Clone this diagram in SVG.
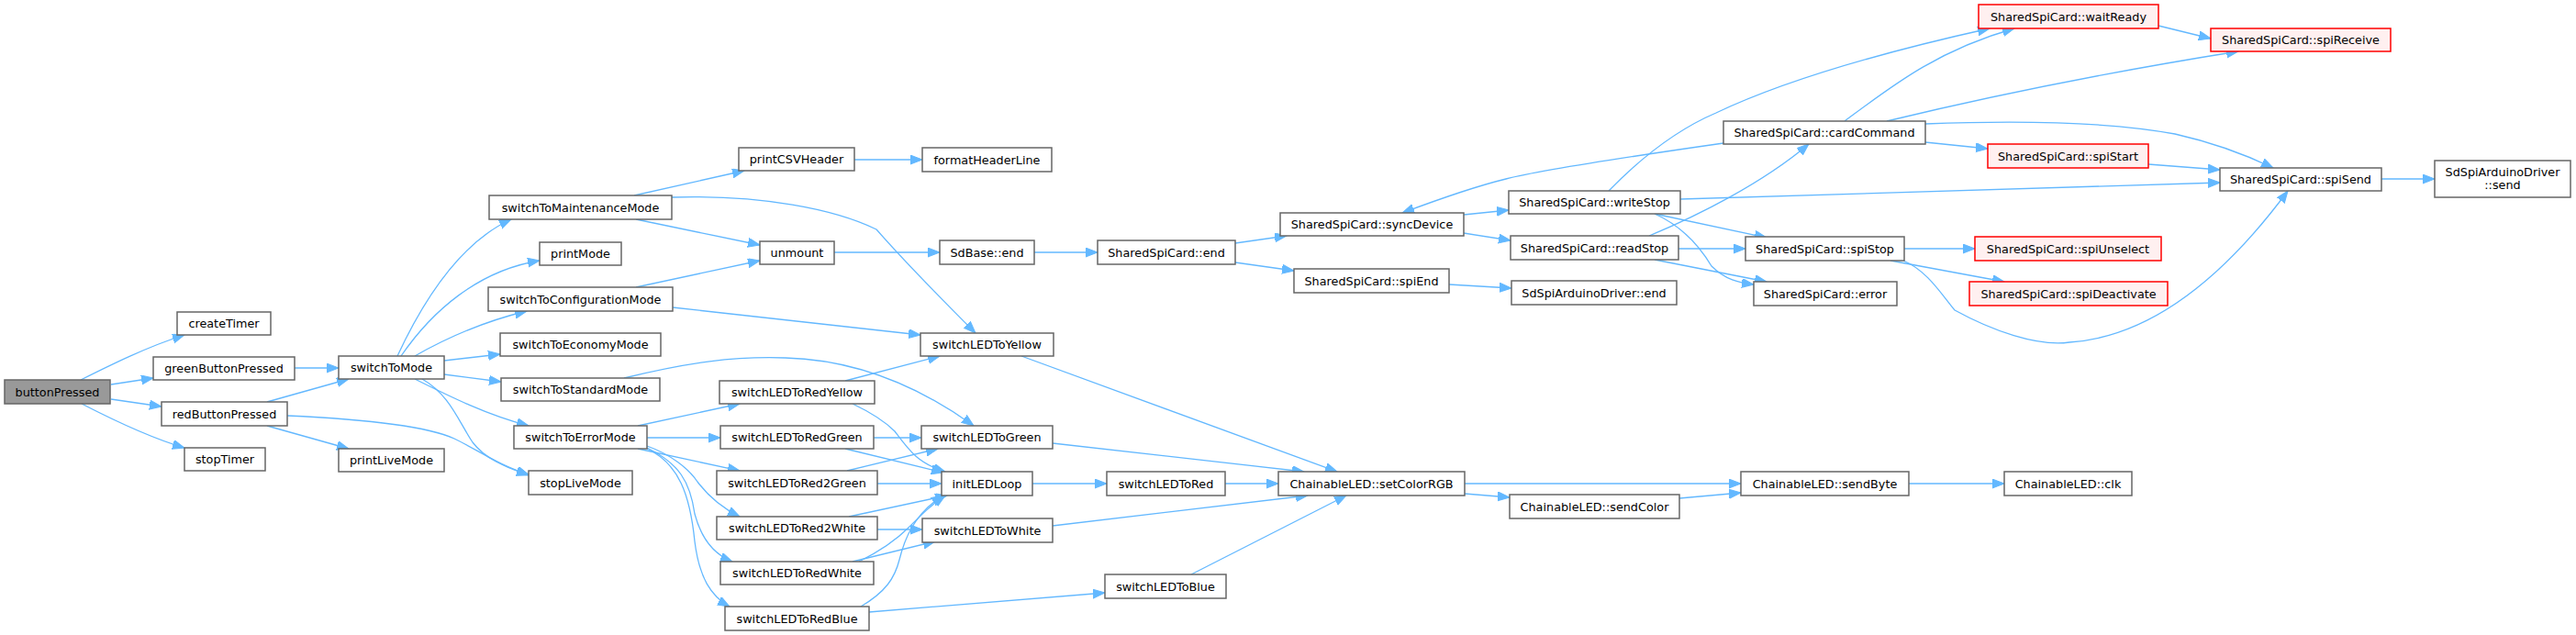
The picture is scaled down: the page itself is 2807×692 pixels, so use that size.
<svg xmlns="http://www.w3.org/2000/svg" width="2807" height="692" viewBox="0 0 2807 692">
<style>
.n rect{fill:#ffffff;stroke:#666666;stroke-width:1.5}
.r rect{fill:#fff0f0;stroke:#ff0000;stroke-width:1.5}
.root rect{fill:#999999;stroke:#666666;stroke-width:1.5}
text{font-family:"DejaVu Sans","Liberation Sans",sans-serif;font-size:12.8px;fill:#000000;text-anchor:middle}
#edges path{fill:none;stroke:#63b8ff;stroke-width:1.3;marker-end:url(#ah)}
</style>
<defs>
<marker id="ah" markerUnits="userSpaceOnUse" markerWidth="14" markerHeight="11" refX="13" refY="5" orient="auto">
<path d="M0,0 L13,5 L0,10 z" fill="#63b8ff" stroke="#63b8ff" stroke-width="1"/>
</marker>
</defs>
<rect width="2807" height="692" fill="#ffffff"/>
<g id="edges">
<path d="M88,414 C120,398 160,378 201,365"/>
<path d="M121,419 L167,412"/>
<path d="M121,435 L176,443"/>
<path d="M89,440 C120,456 160,476 201,488"/>
<path d="M321,401 L369,401"/>
<path d="M291,438 L380,413"/>
<path d="M291,464 L380,489"/>
<path d="M313,453 C380,456 460,462 495,478 C520,490 545,508 576,517"/>
<path d="M433,388 C460,330 500,265 557,239"/>
<path d="M437,388 C470,340 520,295 588,284"/>
<path d="M452,388 C480,372 520,352 574,339"/>
<path d="M484,393 L545,386"/>
<path d="M484,408 L546,416"/>
<path d="M452,413 C490,432 530,452 576,464"/>
<path d="M460,413 C490,430 500,460 515,482 C530,502 555,510 576,518"/>
<path d="M691,213 L811,186"/>
<path d="M693,239 L828,267"/>
<path d="M732,215 C830,212 910,228 955,250 C990,290 1030,330 1063,363"/>
<path d="M931,174 L1005,174"/>
<path d="M693,313 L828,284"/>
<path d="M733,335 L1003,365"/>
<path d="M680,412 C750,395 800,388 856,390 C930,392 1000,420 1061,464"/>
<path d="M909,275 L1024,275"/>
<path d="M1127,275 L1196,275"/>
<path d="M1346,265 L1402,257"/>
<path d="M1346,286 L1410,295"/>
<path d="M1579,310 L1647,314"/>
<path d="M1595,234 L1644,229"/>
<path d="M1595,254 L1646,262"/>
<path d="M1878,156 C1780,170 1680,185 1641,195 C1600,205 1560,220 1528,232"/>
<path d="M1753,208 C1790,170 1830,140 1870,123 C1950,85 2060,55 2168,31"/>
<path d="M2010,132 C2060,95 2110,55 2195,31"/>
<path d="M2056,132 C2180,102 2320,75 2439,56"/>
<path d="M2098,135 C2200,131 2300,133 2370,146 C2410,155 2450,170 2477,183"/>
<path d="M2098,155 L2166,162"/>
<path d="M2341,179 L2419,185"/>
<path d="M1831,217 C2000,212 2200,204 2419,199"/>
<path d="M1803,233 L1925,259"/>
<path d="M1803,233 C1830,245 1850,265 1865,290 C1880,305 1895,308 1911,310"/>
<path d="M1797,257 C1850,235 1920,200 1971,157"/>
<path d="M1829,271 L1902,271"/>
<path d="M1803,283 L1925,307"/>
<path d="M2075,271 L2152,271"/>
<path d="M2060,284 L2184,307"/>
<path d="M2074,284 C2100,295 2115,320 2130,338 C2170,360 2220,378 2255,373 C2330,368 2410,320 2493,208"/>
<path d="M2352,28 L2409,42"/>
<path d="M2595,195 L2653,195"/>
<path d="M695,464 L806,440"/>
<path d="M705,477 L785,477"/>
<path d="M695,489 L806,513"/>
<path d="M705,486 C730,495 750,510 760,525 C775,545 790,555 806,563"/>
<path d="M705,488 C740,505 752,525 757,560 C765,590 780,605 798,612"/>
<path d="M705,489 C740,505 752,540 757,590 C762,630 775,650 795,661"/>
<path d="M921,415 L1024,388"/>
<path d="M929,440 C950,450 965,460 975,470 C990,490 1000,505 1030,514"/>
<path d="M952,477 L1004,477"/>
<path d="M921,489 L1028,515"/>
<path d="M923,513 L1022,489"/>
<path d="M956,527 L1026,527"/>
<path d="M925,563 L1032,540"/>
<path d="M956,577 L1005,577"/>
<path d="M936,612 C960,600 975,590 990,575 C1005,560 1015,550 1030,540"/>
<path d="M929,612 L1019,590"/>
<path d="M938,661 C965,645 975,630 980,610 C985,590 995,560 1028,540"/>
<path d="M947,667 L1204,646"/>
<path d="M1113,388 L1457,514"/>
<path d="M1147,483 L1421,514"/>
<path d="M1125,527 L1206,527"/>
<path d="M1335,527 L1393,527"/>
<path d="M1147,573 L1425,540"/>
<path d="M1298,626 L1467,540"/>
<path d="M1596,527 L1897,527"/>
<path d="M1596,538 L1645,542"/>
<path d="M1830,543 L1897,537"/>
<path d="M2080,527 L2184,527"/>
</g>
<g id="buttonPressed" class="root"><rect x="5" y="414" width="115" height="26"/><text x="62.5" y="431.5">buttonPressed</text></g>
<g id="createTimer" class="n"><rect x="193" y="340" width="102" height="25"/><text x="244" y="357">createTimer</text></g>
<g id="greenButtonPressed" class="n"><rect x="167" y="389" width="154" height="25"/><text x="244" y="406">greenButtonPressed</text></g>
<g id="redButtonPressed" class="n"><rect x="176" y="438" width="137" height="26"/><text x="244.5" y="455.5">redButtonPressed</text></g>
<g id="stopTimer" class="n"><rect x="201" y="488" width="88" height="25"/><text x="245" y="505">stopTimer</text></g>
<g id="switchToMode" class="n"><rect x="369" y="388" width="115" height="25"/><text x="426.5" y="405">switchToMode</text></g>
<g id="printLiveMode" class="n"><rect x="369" y="489" width="115" height="25"/><text x="426.5" y="506">printLiveMode</text></g>
<g id="switchToMaintenanceMode" class="n"><rect x="533" y="213" width="199" height="26"/><text x="632.5" y="230.5">switchToMaintenanceMode</text></g>
<g id="printMode" class="n"><rect x="588" y="264" width="89" height="25"/><text x="632.5" y="281">printMode</text></g>
<g id="switchToConfigurationMode" class="n"><rect x="532" y="313" width="201" height="26"/><text x="632.5" y="330.5">switchToConfigurationMode</text></g>
<g id="switchToEconomyMode" class="n"><rect x="545" y="363" width="175" height="25"/><text x="632.5" y="380">switchToEconomyMode</text></g>
<g id="switchToStandardMode" class="n"><rect x="546" y="412" width="173" height="25"/><text x="632.5" y="429">switchToStandardMode</text></g>
<g id="switchToErrorMode" class="n"><rect x="560" y="464" width="145" height="25"/><text x="632.5" y="481">switchToErrorMode</text></g>
<g id="stopLiveMode" class="n"><rect x="576" y="513" width="113" height="26"/><text x="632.5" y="530.5">stopLiveMode</text></g>
<g id="printCSVHeader" class="n"><rect x="805" y="161" width="126" height="25"/><text x="868" y="178">printCSVHeader</text></g>
<g id="formatHeaderLine" class="n"><rect x="1005" y="161" width="141" height="26"/><text x="1075.5" y="178.5">formatHeaderLine</text></g>
<g id="unmount" class="n"><rect x="828" y="263" width="81" height="25"/><text x="868.5" y="280">unmount</text></g>
<g id="switchLEDToRedYellow" class="n"><rect x="784" y="415" width="169" height="25"/><text x="868.5" y="432">switchLEDToRedYellow</text></g>
<g id="switchLEDToRedGreen" class="n"><rect x="785" y="464" width="167" height="25"/><text x="868.5" y="481">switchLEDToRedGreen</text></g>
<g id="switchLEDToRed2Green" class="n"><rect x="781" y="513" width="175" height="26"/><text x="868.5" y="530.5">switchLEDToRed2Green</text></g>
<g id="switchLEDToRed2White" class="n"><rect x="781" y="563" width="175" height="25"/><text x="868.5" y="580">switchLEDToRed2White</text></g>
<g id="switchLEDToRedWhite" class="n"><rect x="785" y="612" width="167" height="25"/><text x="868.5" y="629">switchLEDToRedWhite</text></g>
<g id="switchLEDToRedBlue" class="n"><rect x="790" y="661" width="157" height="26"/><text x="868.5" y="678.5">switchLEDToRedBlue</text></g>
<g id="switchLEDToYellow" class="n"><rect x="1003" y="363" width="145" height="25"/><text x="1075.5" y="380">switchLEDToYellow</text></g>
<g id="switchLEDToGreen" class="n"><rect x="1004" y="464" width="143" height="25"/><text x="1075.5" y="481">switchLEDToGreen</text></g>
<g id="initLEDLoop" class="n"><rect x="1026" y="514" width="99" height="26"/><text x="1075.5" y="531.5">initLEDLoop</text></g>
<g id="switchLEDToWhite" class="n"><rect x="1005" y="565" width="142" height="26"/><text x="1076" y="582.5">switchLEDToWhite</text></g>
<g id="switchLEDToRed" class="n"><rect x="1206" y="514" width="129" height="26"/><text x="1270.5" y="531.5">switchLEDToRed</text></g>
<g id="switchLEDToBlue" class="n"><rect x="1204" y="626" width="132" height="26"/><text x="1270" y="643.5">switchLEDToBlue</text></g>
<g id="ChainableLED_setColorRGB" class="n"><rect x="1393" y="514" width="203" height="26"/><text x="1494.5" y="531.5">ChainableLED::setColorRGB</text></g>
<g id="SdBase_end" class="n"><rect x="1024" y="262" width="103" height="26"/><text x="1075.5" y="279.5">SdBase::end</text></g>
<g id="SharedSpiCard_end" class="n"><rect x="1196" y="262" width="150" height="26"/><text x="1271" y="279.5">SharedSpiCard::end</text></g>
<g id="SharedSpiCard_syncDevice" class="n"><rect x="1395" y="232" width="200" height="25"/><text x="1495" y="249">SharedSpiCard::syncDevice</text></g>
<g id="SharedSpiCard_spiEnd" class="n"><rect x="1410" y="293" width="169" height="26"/><text x="1494.5" y="310.5">SharedSpiCard::spiEnd</text></g>
<g id="SharedSpiCard_writeStop" class="n"><rect x="1644" y="208" width="187" height="25"/><text x="1737.5" y="225">SharedSpiCard::writeStop</text></g>
<g id="SharedSpiCard_readStop" class="n"><rect x="1646" y="257" width="183" height="26"/><text x="1737.5" y="274.5">SharedSpiCard::readStop</text></g>
<g id="SdSpiArduinoDriver_end" class="n"><rect x="1647" y="306" width="180" height="26"/><text x="1737" y="323.5">SdSpiArduinoDriver::end</text></g>
<g id="SharedSpiCard_cardCommand" class="n"><rect x="1878" y="132" width="220" height="25"/><text x="1988" y="149">SharedSpiCard::cardCommand</text></g>
<g id="SharedSpiCard_spiStop" class="n"><rect x="1902" y="258" width="173" height="26"/><text x="1988.5" y="275.5">SharedSpiCard::spiStop</text></g>
<g id="SharedSpiCard_error" class="n"><rect x="1911" y="307" width="156" height="26"/><text x="1989" y="324.5">SharedSpiCard::error</text></g>
<g id="ChainableLED_sendColor" class="n"><rect x="1645" y="539" width="185" height="26"/><text x="1737.5" y="556.5">ChainableLED::sendColor</text></g>
<g id="ChainableLED_sendByte" class="n"><rect x="1897" y="514" width="183" height="26"/><text x="1988.5" y="531.5">ChainableLED::sendByte</text></g>
<g id="ChainableLED_clk" class="n"><rect x="2184" y="514" width="139" height="26"/><text x="2253.5" y="531.5">ChainableLED::clk</text></g>
<g id="SharedSpiCard_waitReady" class="r"><rect x="2156" y="5" width="196" height="26"/><text x="2254" y="22.5">SharedSpiCard::waitReady</text></g>
<g id="SharedSpiCard_spiReceive" class="r"><rect x="2409" y="31" width="196" height="25"/><text x="2507" y="48">SharedSpiCard::spiReceive</text></g>
<g id="SharedSpiCard_spiStart" class="r"><rect x="2166" y="157" width="175" height="26"/><text x="2253.5" y="174.5">SharedSpiCard::spiStart</text></g>
<g id="SharedSpiCard_spiSend" class="n"><rect x="2419" y="183" width="176" height="25"/><text x="2507" y="200">SharedSpiCard::spiSend</text></g>
<g id="SdSpiArduinoDriver_send" class="n"><rect x="2653" y="175" width="148" height="40"/><text x="2727" y="191.5">SdSpiArduinoDriver</text><text x="2727" y="206">::send</text></g>
<g id="SharedSpiCard_spiUnselect" class="r"><rect x="2152" y="258" width="203" height="26"/><text x="2253.5" y="275.5">SharedSpiCard::spiUnselect</text></g>
<g id="SharedSpiCard_spiDeactivate" class="r"><rect x="2146" y="307" width="216" height="26"/><text x="2254" y="324.5">SharedSpiCard::spiDeactivate</text></g>
</svg>
